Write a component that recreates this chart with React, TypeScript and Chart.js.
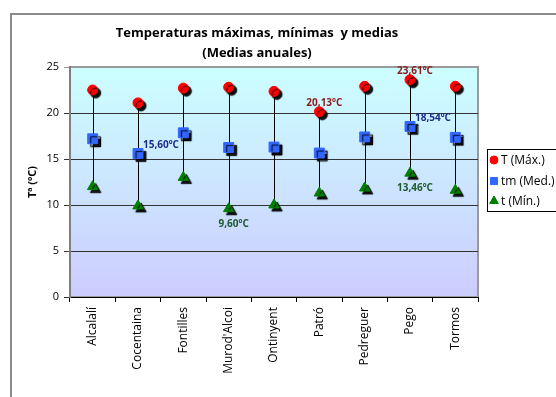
import React, { useEffect, useRef } from "react";
import { Chart, registerables } from "chart.js";
import { drawPoint } from "chart.js/helpers";

Chart.register(...registerables);

// Annual mean temperatures per station (ºC)
const stations = ["Alcalalí", "Cocentaina", "Fontilles", "Murod'Alcoi", "Ontinyent", "Patró", "Pedreguer", "Pego", "Tormos"];
const tMax = [22.5, 21.1, 22.7, 22.8, 22.35, 20.13, 22.9, 23.61, 22.9];
const tMed = [17.2, 15.6, 17.85, 16.25, 16.3, 15.65, 17.4, 18.54, 17.35];
const tMin = [12.0, 9.9, 13.0, 9.6, 10.0, 11.3, 11.85, 13.46, 11.6];
const yTicks = [0, 5, 10, 15, 20, 25];
const seriesNames = ["T (Máx.)", "tm (Med.)", "t (Mín.)"];
// indices of the stations whose value is written next to the marker
const maxLabelAt = [5, 7];
const medLabelAt = [1, 7];
const minLabelAt = [3, 7];
const titleLines = ["Temperaturas máximas, mínimas  y medias", "(Medias anuales)"];
const yAxisTitle = "Tª (ºC)";

const FONT = "'Open Sans', 'Noto Sans', sans-serif";

const fmt = (v: number) => v.toFixed(2).replace(".", ",") + "ºC";

const framePlugin = {
  id: "frame",
  beforeDraw(chart: any) {
    const { ctx, chartArea: a } = chart;
    ctx.save();
    ctx.fillStyle = "#ffffff";
    ctx.fillRect(0, 0, chart.width, chart.height);
    // outer chart border
    ctx.strokeStyle = "#8a8a8a";
    ctx.lineWidth = 2;
    ctx.strokeRect(11, 14, 800, 800);
    // plot background
    const g = ctx.createLinearGradient(0, a.top, 0, a.bottom);
    g.addColorStop(0, "#ccffff");
    g.addColorStop(1, "#ccccff");
    ctx.fillStyle = g;
    ctx.fillRect(a.left, a.top, a.right - a.left, a.bottom - a.top);
    ctx.strokeStyle = "#9a9a9a";
    ctx.lineWidth = 2;
    ctx.strokeRect(a.left, a.top, a.right - a.left, a.bottom - a.top);
    // title
    ctx.fillStyle = "#000";
    ctx.font = `bold 13px ${FONT}`;
    ctx.textAlign = "center";
    ctx.textBaseline = "middle";
    ctx.fillText(titleLines[0], 257, 33);
    ctx.fillText(titleLines[1], 257, 53);
    ctx.restore();
  },
  beforeDatasetsDraw(chart: any) {
    // high-low lines from max to min
    const { ctx } = chart;
    const xs = chart.scales.x;
    const ys = chart.scales.y;
    ctx.save();
    ctx.strokeStyle = "#000";
    ctx.lineWidth = 1;
    stations.forEach((_, i) => {
      const x = Math.round(xs.getPixelForValue(i)) + 0.5;
      ctx.beginPath();
      ctx.moveTo(x, ys.getPixelForValue(tMax[i]));
      ctx.lineTo(x, ys.getPixelForValue(tMin[i]));
      ctx.stroke();
    });
    ctx.restore();
  },
  beforeDatasetDraw(chart: any) {
    const { ctx } = chart;
    ctx.save();
    ctx.shadowColor = "rgba(0,0,0,0.95)";
    ctx.shadowOffsetX = 3;
    ctx.shadowOffsetY = 3;
    ctx.shadowBlur = 1;
  },
  afterDatasetDraw(chart: any) {
    chart.ctx.restore();
  },
  afterDatasetsDraw(chart: any) {
    const { ctx } = chart;
    ctx.save();
    ctx.font = `bold 10px ${FONT}`;
    ctx.textBaseline = "middle";
    const put = (dsIndex: number, idx: number[], values: number[], color: string, dx: number, dy: number, align: CanvasTextAlign) => {
      const meta = chart.getDatasetMeta(dsIndex);
      ctx.fillStyle = color;
      ctx.textAlign = align;
      idx.forEach((i) => {
        const p = meta.data[i];
        ctx.fillText(fmt(values[i]), p.x + dx, p.y + dy);
      });
    };
    put(0, maxLabelAt, tMax, "#8b1a1a", 5, -9, "center");
    put(1, medLabelAt, tMed, "#1f2d8a", 5, -8, "left");
    put(2, minLabelAt, tMin, "#1e5a2c", 5, 15, "center");

    // legend
    ctx.strokeStyle = "#000";
    ctx.lineWidth = 1;
    ctx.strokeRect(487.5, 149.5, 100, 62);
    ctx.font = `12px ${FONT}`;
    ctx.textAlign = "left";
    ctx.fillStyle = "#000";
    const rows = [160, 181, 201];
    chart.data.datasets.forEach((ds: any, k: number) => {
      ctx.fillStyle = ds.backgroundColor;
      ctx.strokeStyle = ds.backgroundColor;
      drawPoint(ctx, { pointStyle: ds.pointStyle, radius: k === 0 ? 4 : 5, borderWidth: 1, rotation: 0 }, 494, rows[k]);
      ctx.fillStyle = "#000";
      ctx.fillText(seriesNames[k], 501, rows[k] + 1);
    });
    ctx.restore();
  },
};

export default function App() {
  const ref = useRef<HTMLCanvasElement>(null);
  useEffect(() => {
    if (!ref.current) return;
    const chart = new Chart(ref.current, {
      type: "line",
      data: {
        labels: stations,
        datasets: [
          { label: seriesNames[0], data: tMax, showLine: false, pointStyle: "circle", pointRadius: 5, backgroundColor: "#ff0000", borderColor: "#ff0000", pointBorderWidth: 1, clip: false },
          { label: seriesNames[1], data: tMed, showLine: false, pointStyle: "rect", pointRadius: 7, backgroundColor: "#3366ff", borderColor: "#3366ff", pointBorderWidth: 1, clip: false },
          { label: seriesNames[2], data: tMin, showLine: false, pointStyle: "triangle", pointRadius: 6, backgroundColor: "#008000", borderColor: "#008000", pointBorderWidth: 1, clip: false },
        ],
      },
      options: {
        responsive: false,
        animation: false,
        events: [],
        layout: { padding: { top: 67, right: 78, left: 0, bottom: 0 } },
        plugins: { legend: { display: false }, title: { display: false }, tooltip: { enabled: false } },
        scales: {
          x: {
            type: "category",
            offset: true,
            grid: { display: true, drawOnChartArea: false, drawTicks: true, tickLength: 5, offset: true, color: "#000" },
            border: { display: true, color: "#000", width: 1 },
            ticks: { minRotation: 90, maxRotation: 90, autoSkip: false, padding: 5, color: "#000", font: { family: FONT, size: 12 } },
            afterFit: (s: any) => { s.height = 100; },
          },
          y: {
            min: 0,
            max: 25,
            afterBuildTicks: (s: any) => { s.ticks = yTicks.map((v) => ({ value: v })); },
            grid: { color: (c: any) => (c.tick && c.tick.value === 25 ? "#9a9a9a" : "#333333"), tickLength: 6, lineWidth: 1 },
            border: { color: "#7f7f7f", width: 2 },
            ticks: { padding: 5, color: "#000", font: { family: FONT, size: 11 } },
            title: { display: true, text: yAxisTitle, color: "#000", font: { family: FONT, size: 11, weight: "bold" }, padding: { top: 26, bottom: 0 } },
            afterFit: (s: any) => { s.width = 70; },
          },
        },
      },
      plugins: [framePlugin],
    });
    return () => chart.destroy();
  }, []);
  return (
    <div style={{ position: "fixed", left: 0, top: 0, width: 556, height: 397 }}>
      <canvas ref={ref} width={556} height={397} style={{ display: "block" }} />
    </div>
  );
}
